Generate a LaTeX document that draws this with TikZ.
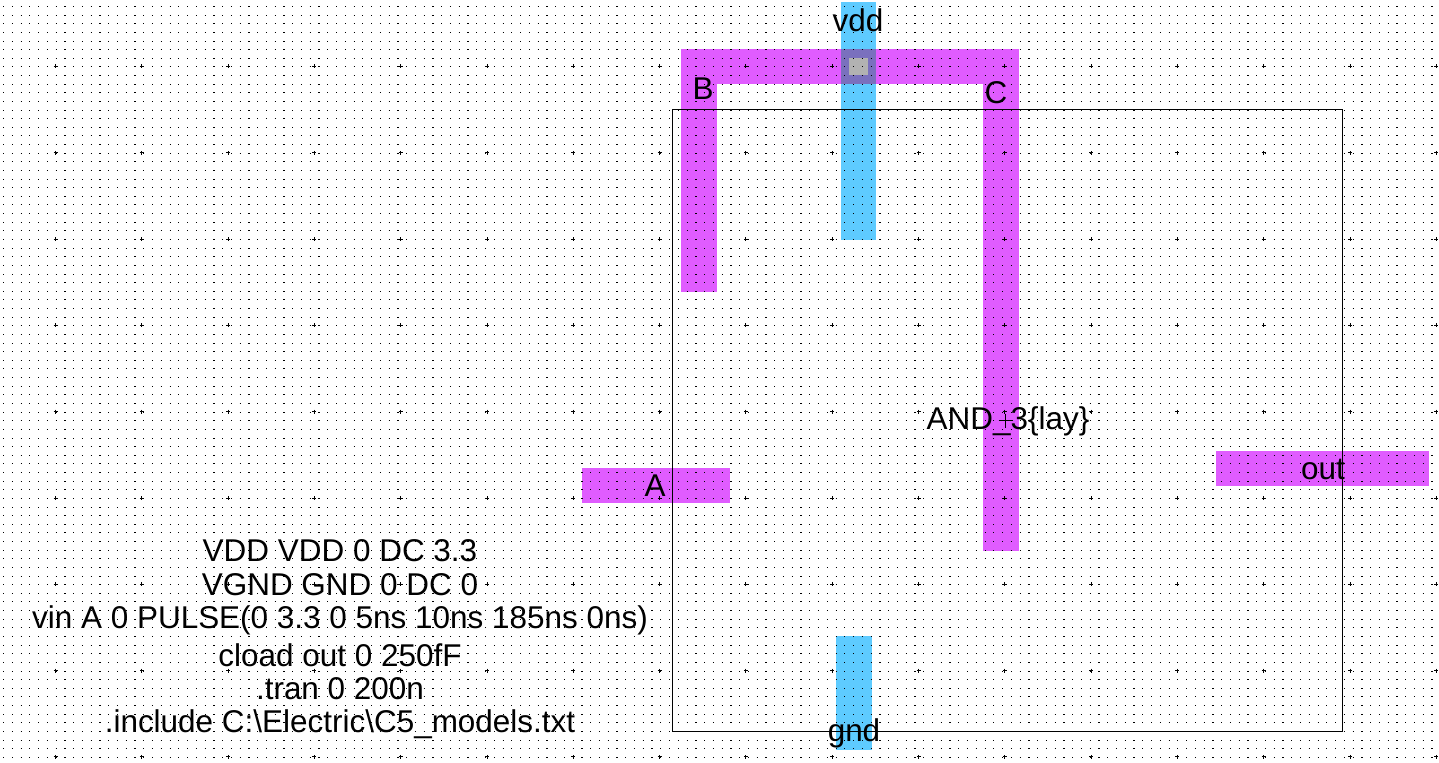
\documentclass[tikz,border=0pt]{standalone}
\usepackage{fontspec}
\setmainfont{Liberation Sans}
\definecolor{metalone}{RGB}{224,92,255}
\definecolor{metaltwo}{RGB}{94,203,255}
\definecolor{overlap}{RGB}{122,112,190}
\definecolor{viacut}{RGB}{178,178,178}
\tikzset{
  lbl/.style={inner sep=0pt,anchor=center,font=\fontsize{23.6pt}{25.9pt}\selectfont,text=black},
  griddots/.style={line width=0.75pt,dash pattern=on 0.9pt off 5.6725pt},
  major/.style={line width=0.75pt,black},
  outline/.style={draw=black,line width=0.75pt,fill=none}
}
\begin{document}
\begin{tikzpicture}[x=0.75pt,y=-0.75pt]
\useasboundingbox (0,0) rectangle (1439,763);
\fill[white] (0,0) rectangle (1439,763);
% magenta
\fill[metalone] (681,49) rectangle (1019,84);
\fill[metalone] (681,49) rectangle (717,292);
\fill[metalone] (983,49) rectangle (1019,551);
\fill[metalone] (582,468) rectangle (730,503);
\fill[metalone] (1216,451) rectangle (1429,486);
% blue
\fill[metaltwo] (841,2) rectangle (876,240);
\fill[metaltwo] (836,636) rectangle (872,750);
\fill[overlap] (841,49) rectangle (876,84);
\fill[viacut] (849,58) rectangle (868,75);
% grid
\foreach \r in {0,...,88}{
  \pgfmathsetmacro{\yy}{6.5+8.63*\r}
  \draw[griddots] (3,\yy) -- (1439,\yy);
}
\foreach \cc in {0,...,16}{
  \foreach \rr in {0,...,8}{
    \pgfmathsetmacro{\xx}{55.5+86.3*\cc}
    \pgfmathsetmacro{\yy}{66.5+86.3*\rr}
    \draw[major] (\xx-2,\yy) -- (\xx+2,\yy) (\xx,\yy-2) -- (\xx,\yy+2);
  }
}
\draw[outline] (672.5,109.5) rectangle (1342.5,731.5);
\draw[major] (998.5,420.5) -- (1012.5,420.5) (1005.5,413.5) -- (1005.5,427.5);
% labels
\node[lbl] (vdd) at (858,20) {vdd};
\node[lbl] (b) at (703,89) {B};
\node[lbl] (c) at (996,93) {C};
\node[lbl] (a) at (655,486) {A};
\node[lbl] (out) at (1323,469) {out};
\node[lbl] (gnd) at (854,733) {gnd};
\node[lbl] (cell) at (1008,421) {AND\_3\{lay\}};
\node[lbl] (s1) at (340,551) {VDD VDD 0 DC 3.3};
\node[lbl] (s2) at (340,585) {VGND GND 0 DC 0};
\node[lbl] (s3) at (340,620) {vin A 0 PULSE(0 3.3 0 5ns 10ns 185ns 0ns)};
\node[lbl] (s4) at (340,655) {cload out 0 250fF};
\node[lbl] (s5) at (340,689) {.tran 0 200n};
\node[lbl] (s6) at (340,724) {.include C:\textbackslash Electric\textbackslash C5\_models.txt};
\end{tikzpicture}
\end{document}
